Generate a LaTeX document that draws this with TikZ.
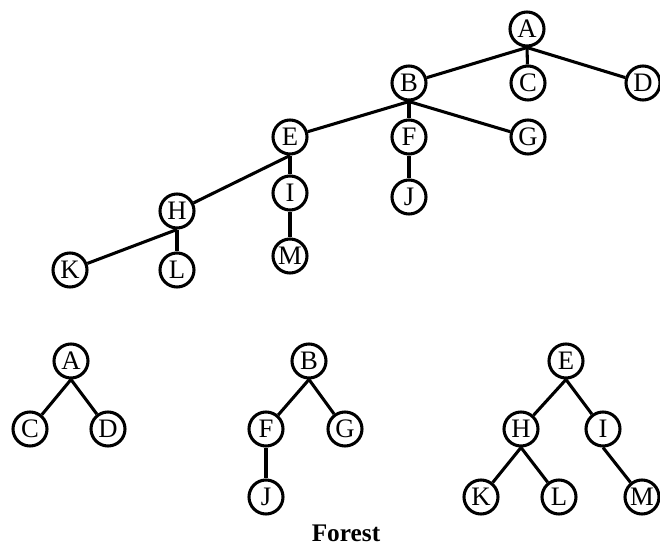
\documentclass[tikz,border=0pt]{standalone}
\usepackage{fontspec}
\setmainfont{Liberation Serif}

\begin{document}
\begin{tikzpicture}[x=0.75pt,y=-0.75pt,line width=2.3pt,
  vtx/.style={circle,draw,line width=2.3pt,minimum size=25.5pt,inner sep=0pt,
    font=\fontsize{20}{20}\selectfont}]
  \useasboundingbox (0,0) rectangle (660,545);
  % the tree
  \node[vtx] (A) at (527,29) {A};
  \node[vtx] (B) at (409,83) {B};
  \node[vtx] (C) at (528,83) {C};
  \node[vtx] (D) at (643,83) {D};
  \node[vtx] (E) at (290,137) {E};
  \node[vtx] (F) at (409,137) {F};
  \node[vtx] (G) at (528,137) {G};
  \node[vtx] (H) at (177,211) {H};
  \node[vtx] (I) at (290,193) {I};
  \node[vtx] (J) at (409,197) {J};
  \node[vtx] (K) at (70,270) {K};
  \node[vtx] (L) at (177,270) {L};
  \node[vtx] (M) at (290,256) {M};
  \draw (A.south) -- (B);
  \draw (A.south) -- (C);
  \draw (A.south) -- (D);
  \draw (B.south) -- (E);
  \draw (B.south) -- (F);
  \draw (B.south) -- (G);
  \draw (E.south) -- (H);
  \draw (E.south) -- (I);
  \draw (F.south) -- (J);
  \draw (H.south) -- (K);
  \draw (H.south) -- (L);
  \draw (I.south) -- (M);
  % the forest
  \node[vtx] (fA) at (71,361) {A};
  \node[vtx] (fC) at (30,429) {C};
  \node[vtx] (fD) at (108,429) {D};
  \node[vtx] (fB) at (309,361) {B};
  \node[vtx] (fF) at (266,429) {F};
  \node[vtx] (fG) at (345,429) {G};
  \node[vtx] (fJ) at (266,497) {J};
  \node[vtx] (fE) at (566,361) {E};
  \node[vtx] (fH) at (521,429) {H};
  \node[vtx] (fI) at (603,429) {I};
  \node[vtx] (fK) at (481,497) {K};
  \node[vtx] (fL) at (559,497) {L};
  \node[vtx] (fM) at (642,497) {M};
  \draw (fA.south) -- (fC);
  \draw (fA.south) -- (fD);
  \draw (fB.south) -- (fF);
  \draw (fB.south) -- (fG);
  \draw (fF) -- (fJ);
  \draw (fE.south) -- (fH);
  \draw (fE.south) -- (fI);
  \draw (fH.south) -- (fK);
  \draw (fH.south) -- (fL);
  \draw (fI.south) -- (fM);
  \node[font=\fontsize{19}{19}\selectfont\bfseries] (cap) at (346,533) {Forest};
\end{tikzpicture}
\end{document}
